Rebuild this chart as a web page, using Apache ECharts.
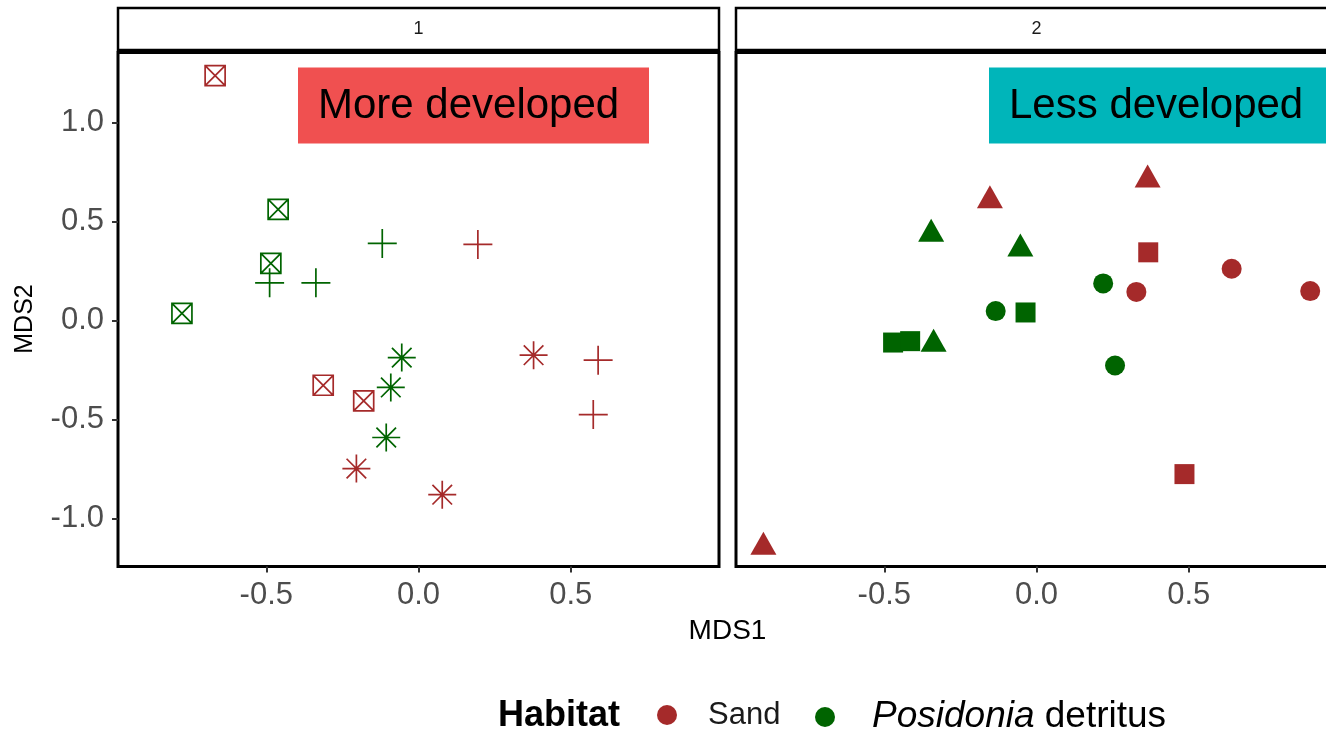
<!DOCTYPE html>
<html><head><meta charset="utf-8">
<script src="https://cdn.jsdelivr.net/npm/echarts@6/dist/echarts.min.js"></script>
<style>html,body{margin:0;padding:0;background:#fff}#c{width:1326px;height:734px}</style>
</head><body><div id="c"></div>
<script>
// ---- tick labels / categories ----
const xTicks = [-0.5, 0, 0.5];
const yTicks = [-1, -0.5, 0, 0.5, 1];
const panelNames = ['1', '2'];
const panelLabels = ['More developed', 'Less developed'];
const habitats = ['Sand', 'Posidonia detritus'];

// ---- Panel 1 (More developed): [MDS1, MDS2] ----
const p1SandBox  = [[-0.668, 1.238], [-0.313, -0.327], [-0.180, -0.406]];
const p1SandPlus = [[0.195, 0.385], [0.590, -0.200], [0.574, -0.475]];
const p1SandStar = [[0.378, -0.175], [-0.204, -0.748], [0.078, -0.880]];
const p1PosBox   = [[-0.461, 0.562], [-0.485, 0.289], [-0.777, 0.036]];
const p1PosPlus  = [[-0.119, 0.390], [-0.489, 0.191], [-0.337, 0.191]];
const p1PosStar  = [[-0.055, -0.187], [-0.091, -0.338], [-0.106, -0.591]];

// ---- Panel 2 (Less developed): [MDS1, MDS2] ----
const p2SandTri    = [[0.365, 0.731], [-0.153, 0.626], [-0.897, -1.125]];
const p2SandSquare = [[0.367, 0.345], [0.486, -0.776]];
const p2SandCircle = [[0.641, 0.262], [0.328, 0.145], [0.899, 0.149]];
const p2PosTri     = [[-0.346, 0.457], [-0.053, 0.382], [-0.338, -0.099]];
const p2PosSquare  = [[-0.036, 0.041], [-0.471, -0.111], [-0.415, -0.104]];
const p2PosCircle  = [[0.219, 0.188], [-0.134, 0.048], [0.258, -0.227]];

const RED = '#A52A2A', GREEN = '#006400';
const FONT = "'Liberation Sans', Arial, Helvetica, sans-serif";

const SYM_BOX  = 'path://M0,0L20,0L20,20L0,20Z M0,0L20,20 M20,0L0,20';
const SYM_PLUS = 'path://M10,0L10,20 M0,10L20,10';
const SYM_STAR = 'path://M10,0L10,20 M0,10L20,10 M3,3L17,17 M17,3L3,17';

function items(arr, symbol, size) {
  return arr.map(p => ({ value: p, symbol: symbol, symbolSize: size }));
}

const panelW = 601, panelH = 514, panelTop = 52.5;
const lefts = [118, 736];

const xMin = -0.987, xMax = 0.987, yMin = -1.243, yMax = 1.355;

const grids = lefts.map(l => ({
  left: l, top: panelTop, width: panelW, height: panelH,
  show: true, borderColor: '#000', borderWidth: 3, backgroundColor: '#fff',
  containLabel: false, outerBoundsMode: 'none'
}));

const tickLabel = { color: '#4D4D4D', fontSize: 31, fontFamily: FONT };

const xAxes = [0, 1].map(i => ({
  type: 'value', gridIndex: i, min: xMin, max: xMax,
  splitLine: { show: false }, axisLine: { show: false, onZero: false },
  axisTick: { show: true, length: 6, lineStyle: { color: '#333', width: 2 }, customValues: xTicks },
  axisLabel: Object.assign({ show: true, customValues: xTicks, formatter: v => v.toFixed(1), margin: 13 }, tickLabel)
}));

const yAxes = [0, 1].map(i => ({
  type: 'value', gridIndex: i, min: yMin, max: yMax,
  splitLine: { show: false }, axisLine: { show: false, onZero: false },
  axisTick: { show: i === 0, length: 6, lineStyle: { color: '#333', width: 2 }, customValues: yTicks },
  axisLabel: Object.assign({ show: i === 0, customValues: yTicks, formatter: v => v.toFixed(1), margin: 14 }, tickLabel)
}));

const filled = c => ({ color: c, borderWidth: 0, opacity: 1 });
const stroked = c => ({ color: 'rgba(0,0,0,0)', borderColor: c, borderWidth: 1.7, opacity: 1 });

const series = [
  { name: habitats[0], type: 'scatter', xAxisIndex: 1, yAxisIndex: 1, itemStyle: filled(RED), silent: true,
    data: [].concat(items(p2SandTri, 'triangle', [26, 23]), items(p2SandSquare, 'rect', 20), items(p2SandCircle, 'circle', 20)) },
  { name: habitats[1], type: 'scatter', xAxisIndex: 1, yAxisIndex: 1, itemStyle: filled(GREEN), silent: true,
    data: [].concat(items(p2PosTri, 'triangle', [26, 23]), items(p2PosSquare, 'rect', 20), items(p2PosCircle, 'circle', 20)) },
  { name: habitats[0], type: 'scatter', xAxisIndex: 0, yAxisIndex: 0, itemStyle: stroked(RED), silent: true,
    data: [].concat(items(p1SandBox, SYM_BOX, 20), items(p1SandPlus, SYM_PLUS, 29), items(p1SandStar, SYM_STAR, 28)) },
  { name: habitats[1], type: 'scatter', xAxisIndex: 0, yAxisIndex: 0, itemStyle: stroked(GREEN), silent: true,
    data: [].concat(items(p1PosBox, SYM_BOX, 20), items(p1PosPlus, SYM_PLUS, 29), items(p1PosStar, SYM_STAR, 28)) }
];

const graphics = [];
// facet strips
lefts.forEach((l, i) => {
  graphics.push({ type: 'rect', shape: { x: l, y: 8, width: panelW, height: 42 }, style: { fill: '#fff', stroke: '#000', lineWidth: 2.5 }, silent: true });
  graphics.push({ type: 'text', x: l + panelW / 2, y: 29.5, style: { text: panelNames[i], fill: '#1A1A1A', font: '18px ' + FONT, textAlign: 'center', textVerticalAlign: 'middle' }, silent: true });
});
// panel labels
const labelColors = ['#F05050', '#00B5BA'];
const labelBoxX = [298, 989];
panelLabels.forEach((t, i) => {
  graphics.push({ type: 'rect', z: 10, shape: { x: labelBoxX[i], y: 67.5, width: 351, height: 76 }, style: { fill: labelColors[i] }, silent: true });
  graphics.push({ type: 'text', z: 11, x: labelBoxX[i] + 20, y: 106, style: { text: t, fill: '#000', font: '42px ' + FONT, textAlign: 'left', textVerticalAlign: 'middle' }, silent: true });
});
// axis titles
graphics.push({ type: 'text', x: 727.5, y: 631, style: { text: 'MDS1', fill: '#000', font: '28px ' + FONT, textAlign: 'center', textVerticalAlign: 'middle' }, silent: true });
graphics.push({ type: 'text', x: 25, y: 319, rotation: Math.PI / 2, style: { text: 'MDS2', fill: '#000', font: '25px ' + FONT, textAlign: 'center', textVerticalAlign: 'middle' }, silent: true });
// legend title
graphics.push({ type: 'text', x: 498, y: 716, style: { text: 'Habitat', fill: '#000', font: 'bold 36px ' + FONT, textAlign: 'left', textVerticalAlign: 'middle' }, silent: true });

const legendText1 = { fontSize: 31, color: '#1A1A1A', fontFamily: FONT, lineHeight: 36 };
const legendText2 = { fontSize: 37, color: '#000', fontFamily: FONT, lineHeight: 40,
  rich: { i: { fontStyle: 'italic', fontSize: 37, fontFamily: FONT, color: '#000', lineHeight: 40 } } };

const option = {
  animation: false,
  backgroundColor: '#fff',
  grid: grids,
  xAxis: xAxes,
  yAxis: yAxes,
  legend: [
    { data: [{ name: habitats[0], icon: 'circle', itemStyle: { color: RED, borderWidth: 0, opacity: 1 } }],
      left: 657, top: 697, itemWidth: 72, itemHeight: 20, padding: 0, selectedMode: false, textStyle: legendText1 },
    { data: [{ name: habitats[1], icon: 'circle', itemStyle: { color: GREEN, borderWidth: 0, opacity: 1 } }],
      left: 815, top: 697, itemWidth: 84, itemHeight: 20, padding: 0, selectedMode: false, textStyle: legendText2,
      formatter: n => '{i|Posidonia} detritus' }
  ],
  graphic: graphics,
  series: series
};

const chart = echarts.init(document.getElementById('c'), null, { renderer: 'canvas' });
chart.setOption(option);
</script>
</body></html>
